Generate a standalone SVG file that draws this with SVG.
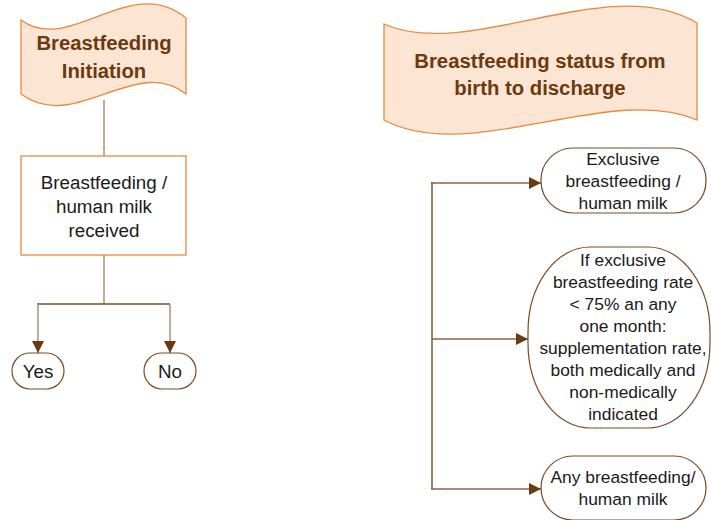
<svg xmlns="http://www.w3.org/2000/svg" width="711" height="520" viewBox="0 0 711 520">
<defs>
<style>
.banner{fill:#fde5d4;stroke:#e58b43;stroke-width:1.3}
.title{font-family:"Liberation Sans",Arial,sans-serif;font-weight:bold;font-size:20.3px;fill:#6b3a10;text-anchor:middle}
.box{fill:#fff;stroke:#e58b43;stroke-width:1.3}
.pill{fill:#fff;stroke:#7d4a22;stroke-width:1.2}
.t{font-family:"Liberation Sans",Arial,sans-serif;fill:#1a1a1a;text-anchor:middle}
.t19{font-size:18.8px}
.t17{font-size:17.4px}
.lt{fill:none;stroke:#b5977c;stroke-width:1.6}
.dk{fill:none;stroke:#7a4a22;stroke-width:1.6}
.rt{fill:none;stroke:#8d6242;stroke-width:1.6}
</style>
<marker id="ah" viewBox="0 0 10 10" refX="10" refY="5" markerWidth="12" markerHeight="12" markerUnits="userSpaceOnUse" orient="auto">
<path d="M0,0 L10,5 L0,10 Z" fill="#6b3a10"/>
</marker>
</defs>

<g id="connectors">
<line class="lt" x1="104" y1="100" x2="104" y2="156"/>
<line class="lt" x1="104" y1="255" x2="104" y2="304"/>
<line class="dk" x1="37" y1="304" x2="170" y2="304"/>
<line class="lt" x1="38" y1="304" x2="38" y2="353" marker-end="url(#ah)"/>
<line class="lt" x1="170" y1="304" x2="170" y2="353" marker-end="url(#ah)"/>
<line class="rt" x1="432" y1="182" x2="432" y2="489"/>
<line class="rt" x1="431" y1="183" x2="541" y2="183" marker-end="url(#ah)"/>
<line class="rt" x1="432" y1="339" x2="528" y2="339" marker-end="url(#ah)"/>
<line class="rt" x1="431" y1="489" x2="541" y2="489" marker-end="url(#ah)"/>
</g>

<g id="banner-initiation">
<path class="banner" d="M21,20 C70,56 130,-28 186,18 L186,94 C135,54 75,134 21,94 Z"/>
<text class="title" x="104" y="50">Breastfeeding</text>
<text class="title" x="104" y="78">Initiation</text>
</g>

<g id="box-received">
<rect class="box" x="21" y="156" width="165" height="99"/>
<text class="t t19" x="104" y="189">Breastfeeding /</text>
<text class="t t19" x="104" y="213">human milk</text>
<text class="t t19" x="104" y="237">received</text>
</g>

<g id="node-yes">
<rect class="pill" x="12" y="353" width="52" height="36" rx="18" ry="18"/>
<text class="t t19" x="38" y="378">Yes</text>
</g>

<g id="node-no">
<rect class="pill" x="144" y="353" width="52" height="36" rx="18" ry="18"/>
<text class="t t19" x="170" y="378">No</text>
</g>

<g id="banner-status">
<path class="banner" d="M384,24 C470,62 610,-30 697,23 L697,120 C610,82 470,166 384,120 Z"/>
<text class="title" x="540" y="68">Breastfeeding status from</text>
<text class="title" x="540" y="95">birth to discharge</text>
</g>

<g id="node-exclusive">
<rect class="pill" x="541" y="148" width="165" height="65" rx="32" ry="32"/>
<text class="t t17" x="623" y="165">Exclusive</text>
<text class="t t17" x="623" y="187">breastfeeding /</text>
<text class="t t17" x="623" y="209">human milk</text>
</g>

<g id="node-supplementation">
<rect class="pill" x="528" y="247" width="182" height="181" rx="62" ry="85"/>
<text class="t t17" x="623" y="266">If exclusive</text>
<text class="t t17" x="623" y="288">breastfeeding rate</text>
<text class="t t17" x="623" y="310">&lt; 75% an any</text>
<text class="t t17" x="623" y="332">one month:</text>
<text class="t t17" x="623" y="354">supplementation rate,</text>
<text class="t t17" x="623" y="376">both medically and</text>
<text class="t t17" x="623" y="398">non-medically</text>
<text class="t t17" x="623" y="420">indicated</text>
</g>

<g id="node-any">
<rect class="pill" x="541" y="456" width="165" height="64" rx="32" ry="32"/>
<text class="t t17" x="623" y="483">Any breastfeeding/</text>
<text class="t t17" x="623" y="505">human milk</text>
</g>
</svg>
